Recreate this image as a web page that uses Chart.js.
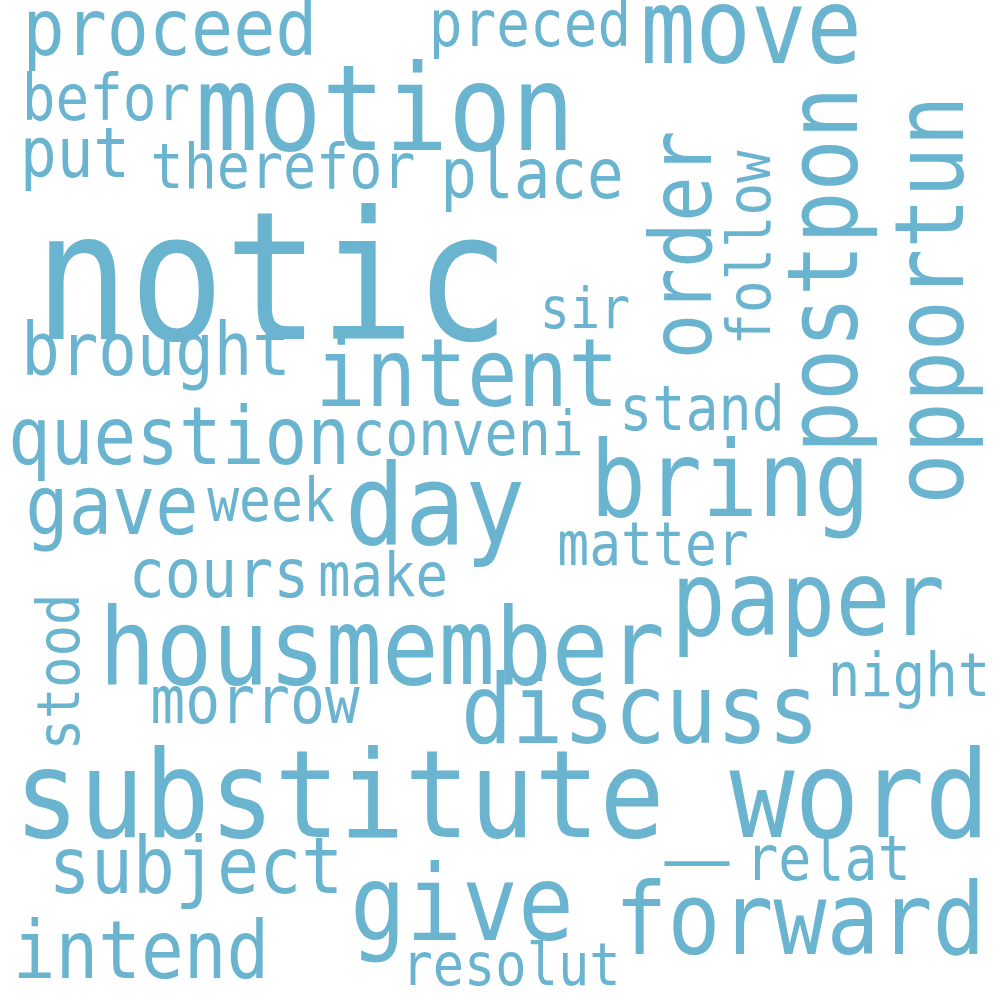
<!DOCTYPE html>
<html>
<head>
<meta charset="utf-8">
<script src="https://cdn.jsdelivr.net/npm/chart.js@4/dist/chart.umd.min.js"></script>
<style>
  html, body { margin: 0; padding: 0; background: #fff; }
  #box { width: 1000px; height: 1000px; }
</style>
</head>
<body>
<div id="box"><canvas id="cloud" width="1000" height="1000"></canvas></div>
<script>
// words of the cloud, with their weight (font size) and where the layout put them
const words = ["notic", "motion", "proceed", "preced", "move", "befor", "put", "therefor", "place",
  "order", "postpon", "opportun", "follow", "sir", "brought", "intent", "stand", "question",
  "conveni", "day", "bring", "gave", "week", "matter", "cours", "make", "paper", "housmember",
  "stood", "night", "morrow", "discuss", "substitute_word", "subject", "relat", "give",
  "forward", "intend", "resolut"];
const weights = [158, 105, 70, 56, 92, 56, 61, 55, 61,
  76, 87, 85, 54, 50, 64, 84, 55, 71,
  55, 100, 93, 72, 53, 53, 60, 54, 91, 94,
  52, 54, 58, 85, 108, 70, 55, 93,
  88, 71, 52];
const xs = [272, 385, 170, 530, 751, 106, 75, 283, 532,
  683, 825, 932, 750, 585, 156, 467, 702, 179,
  468, 435, 730, 112, 271, 653, 219, 383, 808, 382,
  60, 909, 255, 640, 502, 196, 828, 462,
  800, 141, 511];
const ys = [282, 112, 30, 26, 30, 100, 155, 168, 176,
  245, 270, 300, 248, 310, 352, 375, 410, 438,
  435, 508, 482, 508, 502, 546, 575, 576, 602, 650,
  672, 676, 702, 712, 798, 868, 860, 906,
  922, 952, 966];
const vertical = ["order", "postpon", "opportun", "follow", "stood"];

const wordColor = "#6bb4d0";

const textPlugin = {
  id: "wordText",
  afterDatasetsDraw(chart) {
    const c = chart.ctx;
    const meta = chart.getDatasetMeta(0);
    const k = chart.width / 1000;
    c.save();
    c.fillStyle = wordColor;
    c.textAlign = "center";
    c.textBaseline = "middle";
    meta.data.forEach((pt, i) => {
      const s = weights[i] * k;
      c.save();
      c.translate(pt.x, pt.y);
      if (vertical.includes(words[i])) c.rotate(-Math.PI / 2);
      // taller glyphs, like the original cloud font
      c.translate(0, s * 0.07);
      c.scale(1, 1.13);
      c.font = s + "px 'DejaVu Sans Mono'";
      c.fillText(words[i], 0, 0);
      c.restore();
    });
    c.restore();
  }
};

new Chart(document.getElementById("cloud"), {
  type: "scatter",
  data: {
    datasets: [{
      data: words.map((w, i) => ({ x: xs[i], y: ys[i] })),
      pointRadius: 0
    }]
  },
  options: {
    responsive: false,
    animation: false,
    layout: { padding: 0 },
    plugins: { legend: { display: false }, tooltip: { enabled: false } },
    scales: {
      x: { display: false, min: 0, max: 1000 },
      y: { display: false, min: 0, max: 1000, reverse: true }
    }
  },
  plugins: [textPlugin]
});
</script>
</body>
</html>
